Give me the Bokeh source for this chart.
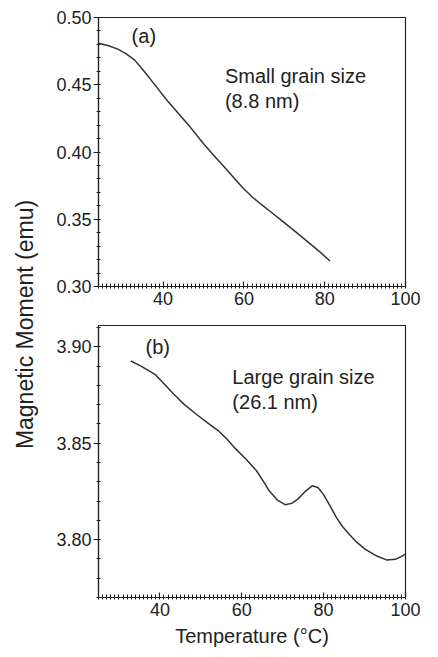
import numpy as np
from bokeh.plotting import figure
from bokeh.layouts import row, column
from bokeh.models import Range1d, FixedTicker, NumeralTickFormatter, Label
from bokeh.core.properties import value
from bokeh.embed import file_html
from bokeh.resources import INLINE

# ---- data ----
temp_a = [24.0, 24.6, 26.5, 28.8, 30.8, 32.9, 35.3, 38.0, 41.0, 44.0, 46.7,
          50.0, 53.0, 55.7, 58.1, 60.0, 62.2, 64.3, 66.3, 70.3, 74.4, 78.5, 81.3]
moment_a = [0.4808, 0.4805, 0.4790, 0.4765, 0.4732, 0.4685, 0.4600, 0.4497,
            0.4383, 0.4278, 0.4185, 0.4061, 0.3960, 0.3870, 0.3788, 0.3725,
            0.3662, 0.3610, 0.3563, 0.3467, 0.3367, 0.3265, 0.3190]

temp_b = [32.9, 35.5, 38.8, 41.0, 43.4, 46.0, 48.9, 51.5, 54.3, 56.3, 58.2,
          61.0, 63.6, 65.6, 66.7, 68.7, 70.6, 72.2, 73.7, 75.5, 77.2, 78.6,
          79.9, 81.5, 83.1, 84.6, 86.2, 88.0, 90.1, 93.0, 95.5, 97.5, 99.4, 100.0]
moment_b = [3.8926, 3.8898, 3.8857, 3.8808, 3.8754, 3.8700, 3.8650, 3.8608,
            3.8564, 3.8523, 3.8477, 3.8418, 3.8357, 3.8292, 3.8253, 3.8205,
            3.8181, 3.8188, 3.8210, 3.8250, 3.8279, 3.8270, 3.8236, 3.8178,
            3.8115, 3.8068, 3.8029, 3.7988, 3.7951, 3.7915, 3.7894, 3.7898,
            3.7917, 3.7925]

xticks = [40, 60, 80, 100]
yticks_a = [0.30, 0.35, 0.40, 0.45, 0.50]
yticks_b = [3.80, 3.85, 3.90]

FONT = "Liberation Sans"
INK = "#222222"
LINE = "#333333"


def style(p, xt, yt, xr, yr, yfmt):
    p.xaxis.ticker = FixedTicker(ticks=xt, minor_ticks=[float(v) for v in np.arange(xr[0], xr[1] + 0.01, 1.0)])
    p.yaxis.ticker = FixedTicker(ticks=yt, minor_ticks=[float(v) for v in np.arange(yr[0], yr[1] + 1e-6, 0.01)])
    p.yaxis.formatter = NumeralTickFormatter(format=yfmt)
    for ax in (p.xaxis, p.yaxis):
        ax.axis_line_color = INK
        ax.axis_line_width = 1.2
        ax.major_tick_line_color = INK
        ax.minor_tick_line_color = INK
        ax.major_tick_line_width = 1.2
        ax.minor_tick_line_width = 1
        ax.major_label_text_font = FONT
        ax.major_label_text_font_size = "18px"
        ax.major_label_text_color = INK
    p.xaxis.major_tick_in = 5
    p.xaxis.major_tick_out = 0
    p.xaxis.minor_tick_in = 3
    p.xaxis.minor_tick_out = 2
    p.yaxis.major_tick_in = 0
    p.yaxis.major_tick_out = 5
    p.yaxis.minor_tick_in = 2
    p.yaxis.minor_tick_out = 2
    p.xaxis.major_label_standoff = 3
    p.yaxis.major_label_standoff = 2
    p.xgrid.visible = False
    p.ygrid.visible = False
    p.outline_line_color = INK
    p.outline_line_width = 1.2
    p.outline_line_alpha = 1.0
    p.background_fill_color = "white"
    p.border_fill_color = "white"


def add_text(p, x, y, txt):
    p.add_layout(Label(x=x, y=y, text=txt, text_font=FONT, text_font_size="20px",
                       text_color=INK, text_baseline="middle", text_align="left"))


# ---- panel (a) ----
xr_a = (24, 100)
yr_a = (0.30, 0.50)
fa = figure(width=398, height=318, output_backend="svg", toolbar_location=None,
            x_range=Range1d(*xr_a), y_range=Range1d(*yr_a),
            min_border_left=54, min_border_right=33, min_border_top=17, min_border_bottom=32)
fa.line(temp_a, moment_a, line_color=LINE, line_width=1.5, line_join="round")
style(fa, xticks, yticks_a, xr_a, yr_a, "0.00")
add_text(fa, 32.2, 0.4859, "(a)")
add_text(fa, 55.3, 0.4562, "Small grain size")
add_text(fa, 55.3, 0.4376, "(8.8 nm)")

# ---- panel (b) ----
xr_b = (25, 100)
yr_b = (3.770, 3.911)
fb = figure(width=398, height=339, output_backend="svg", toolbar_location=None,
            x_range=Range1d(*xr_b), y_range=Range1d(*yr_b),
            min_border_left=58, min_border_right=19, min_border_top=7, min_border_bottom=60)
fb.line(temp_b, moment_b, line_color=LINE, line_width=1.5, line_join="round")
style(fb, xticks, yticks_b, (25, 100), (3.77, 3.91), "0.00")
fb.xaxis.axis_label = "Temperature (°C)"
fb.xaxis.axis_label_text_font = FONT
fb.xaxis.axis_label_text_font_size = "20px"
fb.xaxis.axis_label_text_font_style = "normal"
fb.xaxis.axis_label_text_color = INK
fb.xaxis.axis_label_standoff = 6
add_text(fb, 36.5, 3.8998, "(b)")
add_text(fb, 57.7, 3.8843, "Large grain size")
add_text(fb, 57.7, 3.8714, "(26.1 nm)")

# ---- shared y label ----
fl = figure(width=40, height=657, output_backend="svg", toolbar_location=None,
            x_range=Range1d(0, 40), y_range=Range1d(0, 657),
            min_border=0, min_border_left=0, min_border_right=0,
            min_border_top=0, min_border_bottom=0)
fl.axis.visible = False
fl.grid.visible = False
fl.outline_line_color = None
fl.add_layout(Label(x=24, y=657 - 324, text="Magnetic Moment (emu)", angle=np.pi / 2,
                    text_font=FONT, text_font_size="23px", text_color=INK,
                    text_align="center", text_baseline="middle"))

layout = row(fl, column(fa, fb, spacing=0), spacing=0)
open("out.html", "w").write(file_html(layout, INLINE))
